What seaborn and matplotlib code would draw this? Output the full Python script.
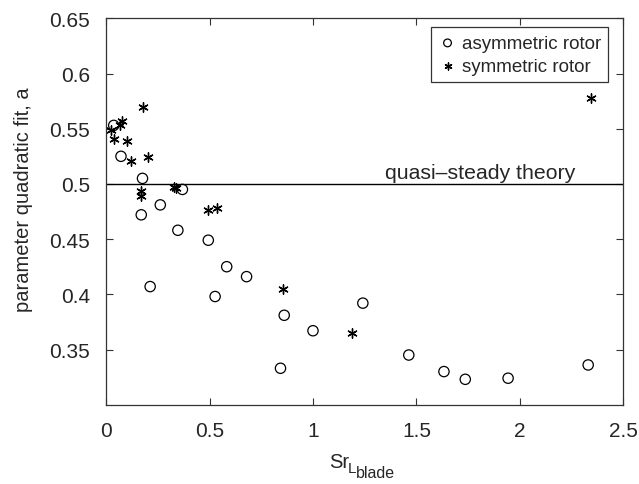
import matplotlib
matplotlib.use("Agg")
import matplotlib.pyplot as plt
import pandas as pd
import seaborn as sns

asym_x = [0.037, 0.072, 0.176, 0.369, 0.262, 0.170, 0.347, 0.494, 0.213, 0.527,
          0.583, 0.679, 0.861, 0.843, 1.000, 1.241, 1.463, 1.633, 1.736, 1.943, 2.330]
asym_y = [0.553, 0.525, 0.505, 0.495, 0.481, 0.472, 0.458, 0.449, 0.407, 0.398,
          0.425, 0.416, 0.381, 0.333, 0.367, 0.392, 0.345, 0.330, 0.323, 0.324, 0.336]

sym_x = [0.178, 0.077, 0.066, 0.024, 0.037, 0.101, 0.120, 0.205, 0.168, 0.170,
         0.326, 0.339, 0.494, 0.537, 0.856, 1.190, 2.342]
sym_y = [0.570, 0.557, 0.553, 0.549, 0.541, 0.539, 0.521, 0.524, 0.494, 0.489,
         0.497, 0.496, 0.476, 0.478, 0.405, 0.365, 0.578]

theory_value = 0.5
x_ticks = [0, 0.5, 1, 1.5, 2, 2.5]
x_tick_labels = ["0", "0.5", "1", "1.5", "2", "2.5"]
y_ticks = [0.35, 0.4, 0.45, 0.5, 0.55, 0.6, 0.65]
y_tick_labels = ["0.35", "0.4", "0.45", "0.5", "0.55", "0.6", "0.65"]

sns.set_style("ticks")
plt.rcParams["font.family"] = ["Liberation Sans", "DejaVu Sans"]

text_color = "#262626"

asym = pd.DataFrame({"x": asym_x, "y": asym_y})
sym = pd.DataFrame({"x": sym_x, "y": sym_y})

fig = plt.figure(figsize=(6.39, 4.85), dpi=100)
ax = fig.add_axes([0.166, 0.1635, 0.8095, 0.7967])

sns.scatterplot(data=asym, x="x", y="y", ax=ax, marker="o", s=55,
                facecolor="none", edgecolor="black", linewidth=0.9,
                label="asymmetric rotor")
sns.scatterplot(data=sym, x="x", y="y", ax=ax, marker=(6, 2, 0), s=45,
                color="black", linewidth=1.0, label="symmetric rotor")

ax.axhline(theory_value, color="black", linewidth=1.0)
ax.text(1.81, 0.5015, "quasi\u2013steady theory", ha="center", va="bottom",
        fontsize=15.3, color=text_color)

ax.set_xlim(0, 2.5)
ax.set_ylim(0.3, 0.65)
ax.set_xticks(x_ticks)
ax.set_xticklabels(x_tick_labels)
ax.set_yticks(y_ticks)
ax.set_yticklabels(y_tick_labels)
ax.tick_params(direction="in", top=True, right=True, length=5, width=0.8,
               labelsize=15, labelcolor=text_color, color="#333333")
ax.tick_params(axis="y", pad=11.5)
ax.tick_params(axis="x", pad=12)
for spine in ax.spines.values():
    spine.set_visible(True)
    spine.set_color("#333333")
    spine.set_linewidth(0.9)

# x label: Sr with subscript L and a lowered "blade" of the same small size
ax.set_xlabel("")
ax.text(0.431, -0.161, "Sr", transform=ax.transAxes, fontsize=14.5,
        color=text_color, ha="left", va="baseline")
ax.text(0.467, -0.174, "L", transform=ax.transAxes, fontsize=11,
        color=text_color, ha="left", va="baseline")
ax.text(0.4825, -0.187, "blade", transform=ax.transAxes, fontsize=11.5,
        color=text_color, ha="left", va="baseline")

ax.set_ylabel("parameter quadratic fit, a", fontsize=14.5, color=text_color)
ax.yaxis.set_label_coords(-0.141, 0.532)

leg = ax.legend(loc="upper right", bbox_to_anchor=(0.971, 0.977), borderaxespad=0,
                fontsize=13.5, frameon=True, fancybox=False, handletextpad=0.25,
                handlelength=1.0, borderpad=0.4, labelspacing=0.3, markerscale=0.75)
leg.get_frame().set_edgecolor("black")
leg.get_frame().set_linewidth(0.9)
for t in leg.get_texts():
    t.set_color(text_color)

fig.savefig("out.png", dpi=100)
